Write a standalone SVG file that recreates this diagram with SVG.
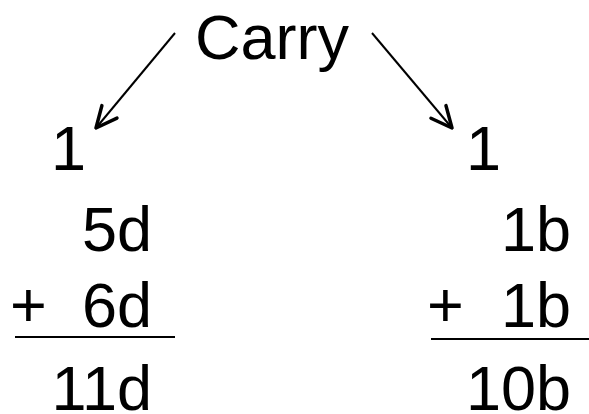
<svg xmlns="http://www.w3.org/2000/svg" width="589" height="414" viewBox="0 0 589 414">
<style>
text{font-family:"Liberation Sans",Arial,sans-serif;font-size:63px;fill:#000}
.rule{stroke:#000;stroke-width:2}
.arrow{stroke:#000;stroke-width:2;fill:none}
</style>
<defs>
<marker id="ah" markerUnits="userSpaceOnUse" viewBox="-26 -14 28 28" markerWidth="28" markerHeight="28" refX="0" refY="0" orient="auto">
<path d="M-21,-9.8 L0,0 L-21,9.8" fill="none" stroke="#000" stroke-width="3.5" stroke-linejoin="round" stroke-linecap="round"/>
</marker>
</defs>
<rect width="589" height="414" fill="#fff"/>
<g id="carry"><text x="195" y="59">Carry</text></g>
<g id="connectors">
<line class="arrow" x1="175" y1="33" x2="96" y2="128" marker-end="url(#ah)"/>
<line class="arrow" x1="372" y1="33" x2="452" y2="128" marker-end="url(#ah)"/>
</g>
<g id="decimal">
<text x="51" y="170">1</text>
<text x="152" y="251" text-anchor="end">5d</text>
<text x="10" y="327">+</text>
<text x="152" y="327" text-anchor="end">6d</text>
<line class="rule" x1="15" y1="337" x2="175" y2="337"/>
<text x="152" y="410" text-anchor="end">11d</text>
</g>
<g id="binary">
<text x="466" y="170">1</text>
<text x="571" y="251" text-anchor="end">1b</text>
<text x="427" y="327">+</text>
<text x="571" y="327" text-anchor="end">1b</text>
<line class="rule" x1="431" y1="339" x2="589" y2="339"/>
<text x="571" y="410" text-anchor="end">10b</text>
</g>
</svg>
